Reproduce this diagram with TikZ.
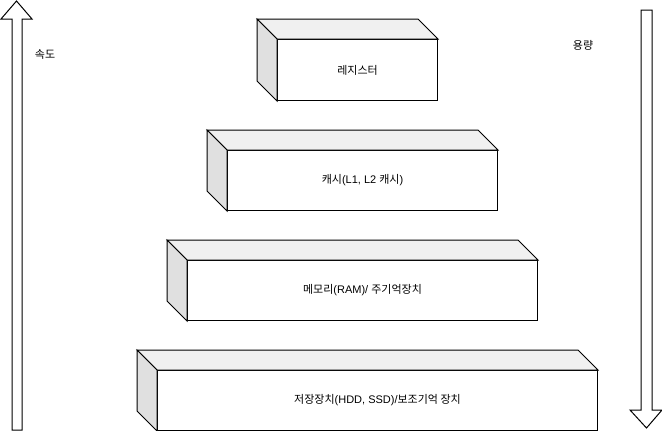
\documentclass[tikz,border=0pt]{standalone}
\usepackage{fontspec}
\setmainfont{Liberation Sans}
\newfontfamily\kr{Noto Sans CJK KR}
\begin{document}
\begin{tikzpicture}[x=1pt,y=-1pt,
  front/.style={draw=black, fill=white, line width=1pt, anchor=north west, inner sep=0pt, font=\fontsize{11}{13}\selectfont},
  topface/.style={draw=black, fill=black!6, line width=1pt, line join=miter},
  sideface/.style={draw=black, fill=black!12, line width=1pt, line join=miter},
  bigarrow/.style={draw=black, fill=white, line width=1pt, line join=miter},
  lbl/.style={font=\fontsize{11}{13}\selectfont, inner sep=0pt}]
\useasboundingbox (0,0) rectangle (662,431);
% cubes: front face node, then top and side faces
\newcommand{\mycube}[6]{%
  \node[front, minimum width=#3-20pt, minimum height=#4-20pt] (#5) at (#1+20,#2+20) {#6};
  \draw[topface] (#5.north west) -- ++(-20,-20) -- ([xshift=-20pt,yshift=20pt]#5.north east) -- (#5.north east) -- cycle;
  \draw[sideface] (#5.north west) -- ++(-20,-20) -- ([xshift=-20pt,yshift=20pt]#5.south west) -- (#5.south west) -- cycle;
}
\mycube{257}{19}{180}{81}{reg}{{\kr 레지스터}}
\mycube{207}{130}{290}{80}{cache}{{\kr 캐시}(L1, L2 {\kr 캐시})}
\mycube{167}{240}{370}{80}{mem}{{\kr 메모리}(RAM)/ {\kr 주기억장치}}
\mycube{137}{350}{460}{80}{disk}{{\kr 저장장치}(HDD, SSD)/{\kr 보조기억 장치}}
% left arrow (up)
\draw[bigarrow] (12,430) -- (12,19) -- (1,19) -- (16.5,1) -- (32,19) -- (22,19) -- (22,430) -- cycle;
% right arrow (down)
\draw[bigarrow] (641,10) -- (641,410) -- (630,410) -- (646.5,428) -- (662,410) -- (652,410) -- (652,10) -- cycle;
\node[lbl] (speed) at (45,54) {\kr 속도};
\node[lbl] (capacity) at (583,45) {\kr 용량};
\end{tikzpicture}
\end{document}
